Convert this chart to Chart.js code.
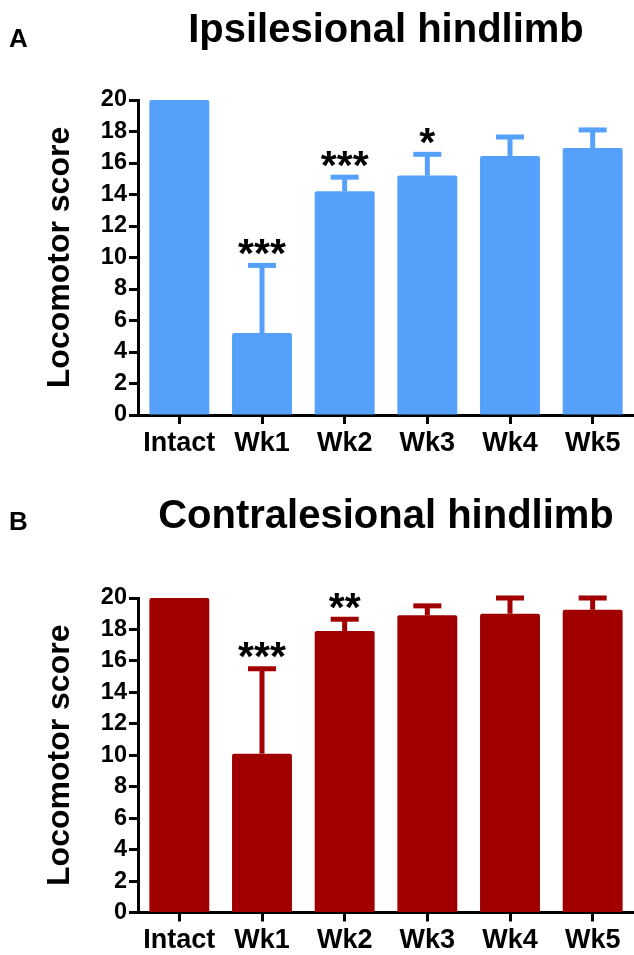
<!DOCTYPE html>
<html>
<head>
<meta charset="utf-8">
<script src="https://cdn.jsdelivr.net/npm/chart.js@4.4.1/dist/chart.umd.min.js"></script>
<style>
  html, body { margin: 0; padding: 0; background: #fff; width: 634px; height: 955px; overflow: hidden; }
  .panel { position: absolute; left: 0; width: 634px; }
  #panelA { top: 0; height: 498px; }
  #panelB { top: 498px; height: 470px; }
</style>
</head>
<body>
<div class="panel" id="panelA"><canvas id="chartA"></canvas></div>
<div class="panel" id="panelB"><canvas id="chartB"></canvas></div>
<script>
// Locomotor scores (mean, upper SEM) per time point
const categories = ['Intact', 'Wk1', 'Wk2', 'Wk3', 'Wk4', 'Wk5'];
const yTickValues = [0, 2, 4, 6, 8, 10, 12, 14, 16, 18, 20];

const ipsiMeans  = [20, 5.2, 14.2, 15.2, 16.45, 16.95];
const ipsiErrors = [0, 4.3, 0.9, 1.35, 1.2, 1.15];
const ipsiStars  = ['', '***', '***', '*', '', ''];

const contraMeans  = [20, 10.1, 17.9, 18.9, 19.0, 19.25];
const contraErrors = [0, 5.4, 0.75, 0.6, 1.0, 0.75];
const contraStars  = ['', '***', '**', '', '', ''];

const FONT = '"Liberation Sans", Arial, Helvetica, sans-serif';

// Upper error bars, significance stars, panel letter and heading
const annotations = {
  id: 'annotations',
  afterDatasetsDraw(chart, args, opts) {
    const { ctx } = chart;
    const yScale = chart.scales.y;
    const meta = chart.getDatasetMeta(0);
    const values = chart.data.datasets[0].data;
    ctx.save();
    meta.data.forEach((bar, i) => {
      const err = opts.errors[i];
      const v = values[i];
      let capY = yScale.getPixelForValue(v);
      if (err) {
        capY = yScale.getPixelForValue(v + err);
        const baseY = yScale.getPixelForValue(v);
        ctx.fillStyle = opts.color;
        ctx.fillRect(bar.x - 2.5, capY, 5, baseY - capY);
        ctx.fillRect(bar.x - 14, capY - 2.5, 28, 5);
      }
      const star = opts.stars[i];
      if (star) {
        ctx.font = 'bold 41px ' + FONT;
        ctx.fillStyle = '#000';
        ctx.textAlign = 'center';
        ctx.textBaseline = 'alphabetic';
        const m = ctx.measureText(star);
        const center = capY - 18.5;
        const baseline = center + (m.actualBoundingBoxAscent - m.actualBoundingBoxDescent) / 2;
        ctx.fillText(star, bar.x, baseline);
      }
    });
    ctx.restore();
  },
  afterDraw(chart, args, opts) {
    const { ctx, chartArea } = chart;
    ctx.save();
    ctx.fillStyle = '#000';
    ctx.textBaseline = 'alphabetic';
    ctx.font = 'bold 26px ' + FONT;
    ctx.textAlign = 'left';
    ctx.fillText(opts.letter, 9, opts.letterY);
    ctx.font = 'bold 40px ' + FONT;
    ctx.textAlign = 'center';
    ctx.fillText(opts.heading, (chartArea.left + chartArea.right) / 2, opts.headingY);
    ctx.restore();
  }
};

function makeChart(canvasId, cfg) {
  const tickFontY = { family: FONT, size: 23.5, weight: 'bold' };
  const tickFontX = { family: FONT, size: 27, weight: 'bold' };
  return new Chart(document.getElementById(canvasId), {
    type: 'bar',
    data: {
      labels: categories,
      datasets: [{
        data: cfg.means,
        backgroundColor: cfg.color,
        borderWidth: 0,
        borderRadius: 2,
        borderSkipped: 'bottom',
        categoryPercentage: 1.0,
        barPercentage: 0.725
      }]
    },
    options: {
      responsive: true,
      maintainAspectRatio: false,
      animation: false,
      devicePixelRatio: 1,
      layout: { padding: { left: 41, right: 0, top: 100, bottom: cfg.bottomPad } },
      plugins: {
        legend: { display: false },
        tooltip: { enabled: false },
        title: { display: false },
        annotations: {
          errors: cfg.errors, stars: cfg.stars, color: cfg.color,
          letter: cfg.letter, letterY: cfg.letterY,
          heading: cfg.heading, headingY: cfg.headingY
        }
      },
      scales: {
        x: {
          type: 'category',
          offset: true,
          grid: { display: true, offset: false, drawOnChartArea: false, drawTicks: true,
                  tickLength: 9, tickWidth: 3, tickColor: '#000' },
          border: { display: true, color: '#000', width: 3 },
          ticks: { color: '#000', font: tickFontX, padding: 3, maxRotation: 0, autoSkip: false },
          afterFit(scale) { scale.height = 45; }
        },
        y: {
          min: 0, max: 20,
          afterBuildTicks(scale) { scale.ticks = yTickValues.map(v => ({ value: v })); },
          grid: { display: true, drawOnChartArea: false, drawTicks: true,
                  tickLength: 9, tickWidth: 3, tickColor: '#000' },
          border: { display: true, color: '#000', width: 3 },
          ticks: { color: '#000', font: tickFontY, padding: 2, autoSkip: false },
          title: { display: true, text: 'Locomotor score', color: '#000',
                   font: { family: FONT, size: 32, weight: 'bold' }, padding: 0 },
          afterFit(scale) { scale.width = 97; }
        }
      }
    },
    plugins: [annotations]
  });
}

makeChart('chartA', {
  means: ipsiMeans, errors: ipsiErrors, stars: ipsiStars, color: '#55A0FB',
  letter: 'A', letterY: 47, heading: 'Ipsilesional hindlimb', headingY: 42,
  bottomPad: 498 - 415 - 45
});
makeChart('chartB', {
  means: contraMeans, errors: contraErrors, stars: contraStars, color: '#A00000',
  letter: 'B', letterY: 32, heading: 'Contralesional hindlimb', headingY: 30,
  bottomPad: 470 - 414.5 - 45
});
</script>
</body>
</html>
